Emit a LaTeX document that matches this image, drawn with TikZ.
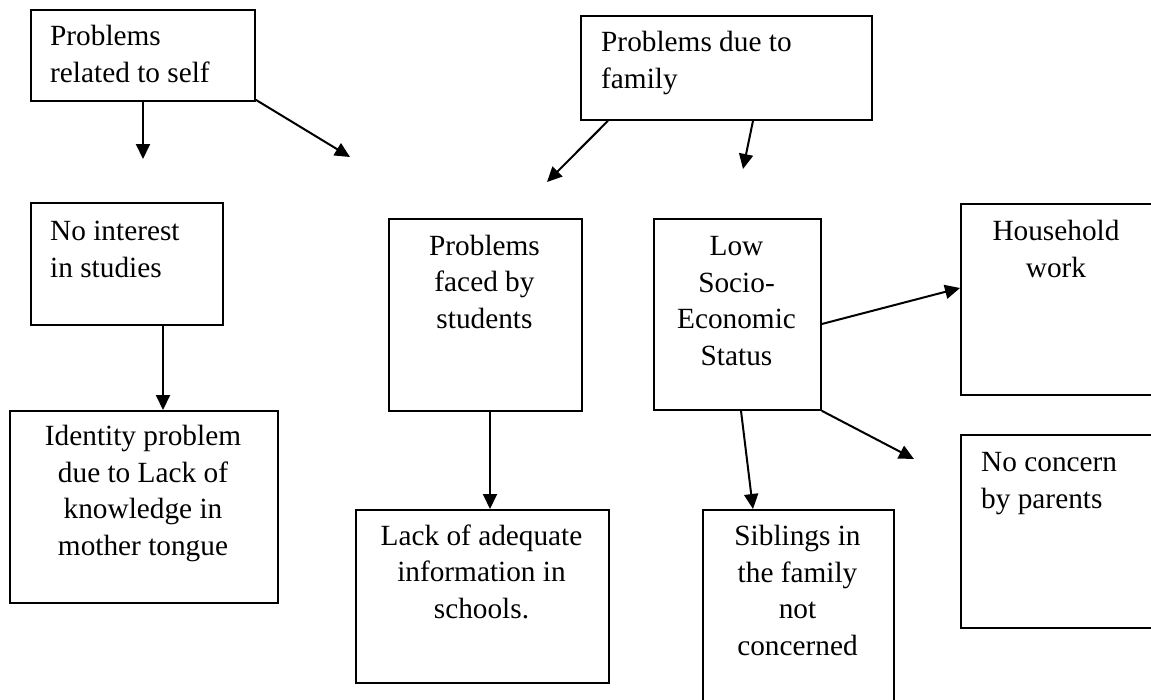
\documentclass[tikz,border=0pt]{standalone}
\usepackage{fontspec}
\setmainfont{Liberation Serif}
\usetikzlibrary{arrows.meta}
\begin{document}
\begin{tikzpicture}[x=1pt,y=-1pt,
  box/.style={draw=black,line width=1.8pt,rectangle,inner sep=0pt,anchor=north west},
  txt/.style={inner sep=0pt,font=\fontsize{29.3}{36.5}\selectfont},
  ltxt/.style={txt,align=left,anchor=base west},
  ctxt/.style={txt,align=center,anchor=base},
  arr/.style={line width=2pt,-{Triangle[length=15pt,width=14pt]}}]
\useasboundingbox (0,0) rectangle (1151,699);
\clip (0,0) rectangle (1151,699);

% boxes
\node[box,minimum width=224pt,minimum height=91pt]  (self)    at (30,9)   {};
\node[box,minimum width=291pt,minimum height=104pt] (family)  at (580,15) {};
\node[box,minimum width=192pt,minimum height=122pt] (interest) at (30,202) {};
\node[box,minimum width=268pt,minimum height=192pt] (identity) at (9,410) {};
\node[box,minimum width=193pt,minimum height=192pt] (students) at (388,218) {};
\node[box,minimum width=167pt,minimum height=191pt] (ses)      at (653,218) {};
\node[box,minimum width=253pt,minimum height=173pt] (info)     at (355,509) {};
\node[box,minimum width=191pt,minimum height=220pt] (siblings) at (702,509) {};
\node[box,minimum width=192pt,minimum height=191pt] (household) at (960,203) {};
\node[box,minimum width=220pt,minimum height=193pt] (parents)  at (960,434) {};

% texts (placed by the baseline of their last line)
\node[ltxt] (tself)     at (50,82)   {Problems\\related to self};
\node[ltxt] (tfamily)   at (601,88)  {Problems due to\\family};
\node[ltxt] (tinterest) at (50,277)  {No interest\\in studies};
\node[ctxt] (tidentity) at (143,555) {Identity problem\\due to Lack of\\knowledge in\\mother tongue};
\node[ctxt] (tstudents) at (484.5,328) {Problems\\faced by\\students};
\node[ctxt] (tses)      at (736.5,365) {Low\\Socio-\\Economic\\Status};
\node[ctxt] (tinfo)     at (481.5,618) {Lack of adequate\\information in\\schools.};
\node[ctxt] (tsiblings) at (797.5,655) {Siblings in\\the family\\not\\concerned};
\node[ctxt] (thousehold) at (1056,277) {Household\\work};
\node[ltxt] (tparents)  at (981,508) {No concern\\by parents};

% free arrow ends
\coordinate (e1) at (143,159);
\coordinate (e2) at (350,157);
\coordinate (e3) at (547,182);
\coordinate (e4) at (743,169);
\coordinate (e5) at (914,459);

% connectors
\draw[arr] ([xshift=113pt]self.south west) -- (e1);
\draw[arr] ([yshift=2pt]self.south east) -- (e2);
\draw[arr] ([xshift=28pt]family.south west) -- (e3);
\draw[arr] ([xshift=173pt]family.south west) -- (e4);
\draw[arr] ([xshift=133pt]interest.south west) -- ([xshift=154pt]identity.north west);
\draw[arr] ([xshift=102pt]students.south west) -- ([xshift=135pt]info.north west);
\draw[arr] ([xshift=88pt]ses.south west) -- ([xshift=51pt]siblings.north west);
\draw[arr] ([yshift=-106pt]ses.north east) -- ([yshift=-85pt]household.north west);
\draw[arr] (ses.south east) -- (e5);
\end{tikzpicture}
\end{document}
